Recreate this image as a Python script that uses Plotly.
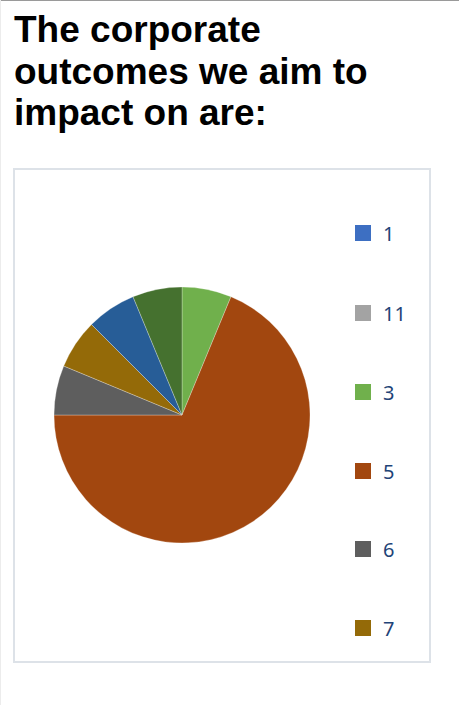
import plotly.graph_objects as go

W, H = 459, 705

# Data
labels = ["1", "11", "3", "5", "6", "7", "8", "9"]
values = [0, 0, 1, 11, 1, 1, 1, 1]
colors = ["#3D6FC2", "#A3A3A3", "#70B04C", "#A2470F", "#5E5E5E", "#946A08", "#275D97", "#45712F"]
legend_labels = ["1", "11", "3", "5", "6", "7"]
title_lines = ["The corporate", "outcomes we aim to", "impact on are:"]


def py(px):
    return 1 - px / H


def px_x(px):
    return px / W


fig = go.Figure()

cx, cy, r = 182, 415, 128
fig.add_trace(go.Pie(
    labels=labels, values=values, sort=False, direction="clockwise", rotation=0,
    marker=dict(colors=colors, line=dict(color="rgba(255,255,255,0.45)", width=0.6)),
    textinfo="none", showlegend=False,
    domain=dict(x=[px_x(cx - r), px_x(cx + r)], y=[py(cy + r), py(cy - r)]),
))

legend_y = [233, 313, 392, 471, 549, 628]
layout_legends = {}
for i, lab in enumerate(legend_labels):
    key = "legend" if i == 0 else f"legend{i + 1}"
    idx = labels.index(lab)
    fig.add_trace(go.Scatter(
        x=[None], y=[None], mode="markers", name=lab,
        marker=dict(symbol="square", size=16, color=colors[idx]),
        showlegend=True, legend=key, hoverinfo="skip",
    ))
    layout_legends[key] = dict(
        x=px_x(343), y=py(legend_y[i]), xanchor="left", yanchor="middle",
        bgcolor="rgba(0,0,0,0)", borderwidth=0,
        font=dict(family="Noto Sans", size=20, color="#1F4478"),
    )

annotations = []
title_y = [30, 71, 112]
for t, yy in zip(title_lines, title_y):
    annotations.append(dict(
        text=t, x=px_x(12), y=py(yy), xref="paper", yref="paper",
        xanchor="left", yanchor="middle", showarrow=False,
        font=dict(family="Liberation Sans", size=37, color="#000000", weight="bold"),
    ))

shapes = [
    dict(type="line", xref="paper", yref="paper", x0=0, x1=1, y0=py(0.5), y1=py(0.5),
         line=dict(color="#9A9A9A", width=1)),
    dict(type="line", xref="paper", yref="paper", x0=px_x(0.5), x1=px_x(0.5), y0=0, y1=1,
         line=dict(color="#ECECEC", width=1)),
    dict(type="rect", xref="paper", yref="paper", x0=px_x(14), x1=px_x(430),
         y0=py(662), y1=py(169), line=dict(color="#DDE2E8", width=2)),
]

fig.update_layout(
    width=W, height=H, margin=dict(l=0, r=0, t=0, b=0),
    paper_bgcolor="white", plot_bgcolor="white",
    xaxis=dict(visible=False), yaxis=dict(visible=False),
    annotations=annotations, shapes=shapes,
    **layout_legends,
)

fig.write_html("out.html")
